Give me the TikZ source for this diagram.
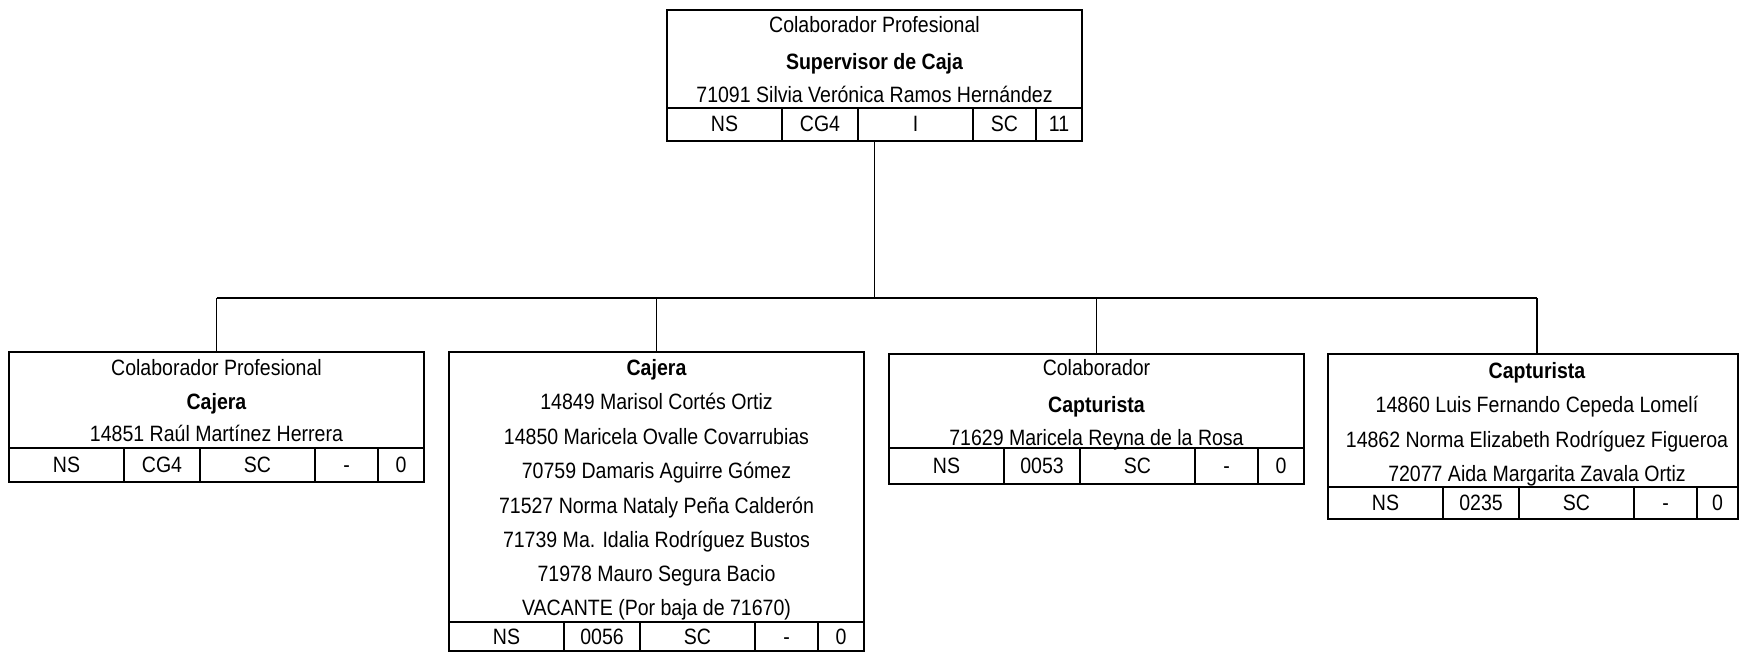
\documentclass[tikz,border=0pt]{standalone}
\usepackage{fontspec}
\setmainfont[FakeStretch=0.88]{Liberation Sans}
\newcommand{\rw}{415}
% #1 prefix, #2 left x, #3 table top y, #4 bottom y, #5-#9 cell texts
\newcommand{\orgrow}[9]{%
  \draw[sep] (#2,#3) -- (#2+\rw,#3);
  \draw[sep] (#2+115,#3) -- (#2+115,#4);
  \draw[sep] (#2+191,#3) -- (#2+191,#4);
  \draw[sep] (#2+306,#3) -- (#2+306,#4);
  \draw[sep] (#2+369,#3) -- (#2+369,#4);
  \node[txt] (#1c1) at (#2+57.5,{(#3+#4)/2+7.5}) {#5};
  \node[txt] (#1c2) at (#2+153,{(#3+#4)/2+7.5}) {#6};
  \node[txt] (#1c3) at (#2+248.5,{(#3+#4)/2+7.5}) {#7};
  \node[txt] (#1c4) at (#2+337.5,{(#3+#4)/2+7.5}) {#8};
  \node[txt] (#1c5) at ({#2+(369+\rw)/2},{(#3+#4)/2+7.5}) {#9};
}
\begin{document}
\begin{tikzpicture}[x=1pt,y=-1pt,
  box/.style={draw, line width=2.5pt, inner sep=0pt, outer sep=0pt, anchor=north west},
  conn/.style={line width=1.6pt},
  sep/.style={line width=2pt},
  txt/.style={inner sep=0pt, anchor=base, font=\fontsize{22.2}{26}\selectfont}]
\useasboundingbox (0,0) rectangle (1739,652);

% top box
\node[box, minimum width=415pt, minimum height=131pt] (top) at (667,10) {};
\node[txt] (t0a) at (874.5,32.5) {Colaborador Profesional};
\node[txt] (t0b) at (874.5,69.5) {\bfseries Supervisor de Caja};
\node[txt] (t0c) at (874.5,102.5) {71091 Silvia Verónica Ramos Hernández};
\orgrow{t0}{667}{108}{141}{NS}{CG4}{I}{SC}{11}

% box 1
\node[box, minimum width=415pt, minimum height=130pt] (b1) at (9,352) {};
\node[txt] (t1a) at (216.5,375.5) {Colaborador Profesional};
\node[txt] (t1b) at (216.5,409.5) {\bfseries Cajera};
\node[txt] (t1c) at (216.5,441.5) {14851 Raúl Martínez Herrera};
\orgrow{t1}{9}{448}{482}{NS}{CG4}{SC}{-}{0}

% box 2
\node[box, minimum width=415pt, minimum height=299pt] (b2) at (449,352) {};
\node[txt] (t2a) at (656.5,375.5) {\bfseries Cajera};
\node[txt] (t2b) at (656.5,409.5) {14849 Marisol Cortés Ortiz};
\node[txt] (t2c) at (656.5,444.5) {14850 Maricela Ovalle Covarrubias};
\node[txt] (t2d) at (656.5,478.5) {70759 Damaris Aguirre Gómez};
\node[txt] (t2e) at (656.5,513.5) {71527 Norma Nataly Peña Calderón};
\node[txt] (t2f) at (656.5,547.5) {71739 Ma. Idalia Rodríguez Bustos};
\node[txt] (t2g) at (656.5,581.5) {71978 Mauro Segura Bacio};
\node[txt] (t2h) at (656.5,615.5) {VACANTE (Por baja de 71670)};
\orgrow{t2}{449}{622}{651}{NS}{0056}{SC}{-}{0}

% box 3
\node[box, minimum width=415pt, minimum height=130pt] (b3) at (889,354) {};
\node[txt] (t3a) at (1096.5,375.5) {Colaborador};
\node[txt] (t3b) at (1096.5,412.5) {\bfseries Capturista};
\node[txt] (t3c) at (1096.5,445.5) {71629 Maricela Reyna de la Rosa};
\orgrow{t3}{889}{448}{484}{NS}{0053}{SC}{-}{0}

% box 4
\node[box, minimum width=410pt, minimum height=165pt] (b4) at (1328,354) {};
\node[txt] (t4a) at (1537,378.5) {\bfseries Capturista};
\node[txt] (t4b) at (1537,412.5) {14860 Luis Fernando Cepeda Lomelí};
\node[txt] (t4c) at (1537,447.5) {14862 Norma Elizabeth Rodríguez Figueroa};
\node[txt] (t4d) at (1537,481.5) {72077 Aida Margarita Zavala Ortiz};
\renewcommand{\rw}{410}
\orgrow{t4}{1328}{487}{519}{NS}{0235}{SC}{-}{0}

% connectors
\coordinate (bar) at (0,298);
\draw[conn] (top.south) -- (top.south |- bar);
\draw[conn] (t1a |- bar) -- (t4a |- bar);
\draw[conn] (t1a |- bar) -- (t1a |- b1.north);
\draw[conn] (t2a |- bar) -- (t2a |- b2.north);
\draw[conn] (t3a |- bar) -- (t3a |- b3.north);
\draw[conn] (t4a |- bar) -- (t4a |- b4.north);
\end{tikzpicture}
\end{document}
